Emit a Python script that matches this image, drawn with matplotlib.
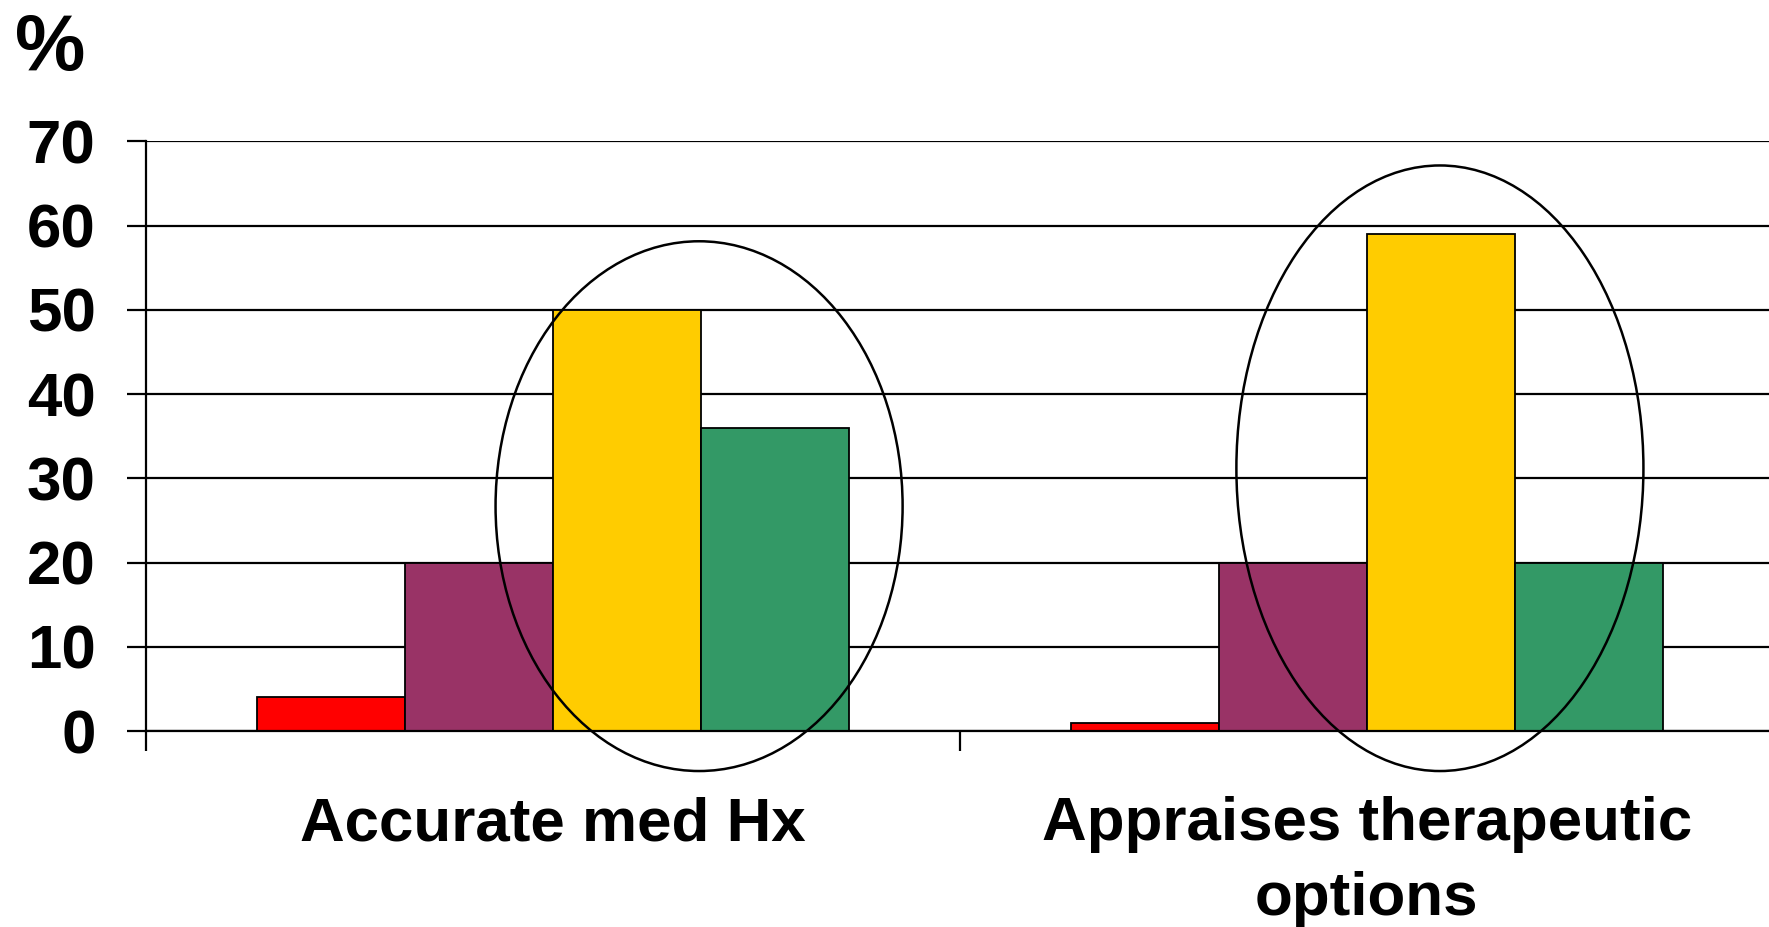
import matplotlib
matplotlib.use("Agg")
import matplotlib.pyplot as plt
from matplotlib.patches import Ellipse
import numpy as np

# ---- data ----
categories = ["Accurate med Hx", "Appraises therapeutic\noptions"]
series_red = [4, 1]
series_purple = [20, 20]
series_yellow = [50, 59]
series_green = [36, 20]
yticks = [0, 10, 20, 30, 40, 50, 60, 70]
ylabel_text = "%"

# ---- style ----
colors = ["#FF0000", "#993366", "#FFCC00", "#339966"]
FONT = "Liberation Sans"
FS = 44.6
LW = 1.6

plt.rcParams["font.family"] = [FONT, "DejaVu Sans"]
plt.rcParams["font.weight"] = "bold"

fig = plt.figure(figsize=(17.69, 9.27), dpi=100)
ax = fig.add_axes([0.08225, 0.2114, 0.9204, 0.636])

x = np.arange(len(categories))
w = 1 / 5.5
all_series = [series_red, series_purple, series_yellow, series_green]
for i, (vals, c) in enumerate(zip(all_series, colors)):
    ax.bar(x + (i - 1.5) * w, vals, width=w, color=c, edgecolor="black",
           linewidth=1.3, zorder=3)

# highlight ellipses (annotations)
ell_specs = [(0.18, 26.7, 0.50, 62.9), (1.09, 31.2, 0.50, 71.9)]
for cx, cy, ew, eh in ell_specs:
    e = Ellipse((cx, cy), ew, eh, fill=False, edgecolor="black",
                linewidth=1.8, zorder=5, clip_on=False)
    ax.add_patch(e)

ax.set_xlim(-0.5, 1.5)
ax.set_ylim(0, 70)
ax.set_yticks(yticks)
ax.set_yticklabels([str(t) for t in yticks], fontsize=FS, fontweight="bold",
                   fontfamily=FONT)
ax.tick_params(axis="y", direction="out", length=14, width=LW, pad=22)

ax.set_xticks([-0.5, 0.5, 1.5])
ax.set_xticklabels([])
ax.tick_params(axis="x", which="major", direction="out", length=14.4, width=LW)
ax.set_xticks(x, minor=True)
ax.set_xticklabels(categories, minor=True, fontsize=FS, fontweight="bold",
                   fontfamily=FONT, linespacing=1.4)
ax.tick_params(axis="x", which="minor", length=0, pad=47)
for lbl in ax.get_xticklabels(minor=True):
    lbl.set_multialignment("center")

ax.yaxis.grid(True, color="black", linewidth=LW, zorder=0)
ax.set_axisbelow(True)
for s in ["top", "right"]:
    ax.spines[s].set_visible(False)
ax.spines["left"].set_linewidth(LW)
ax.spines["bottom"].set_linewidth(LW)
ax.spines["bottom"].set_zorder(4)

fig.text(15 / 1769, 1 - 12 / 927, ylabel_text, ha="left", va="top",
         fontsize=57, fontweight="bold", fontfamily=FONT)

fig.savefig("out.png", dpi=100)
